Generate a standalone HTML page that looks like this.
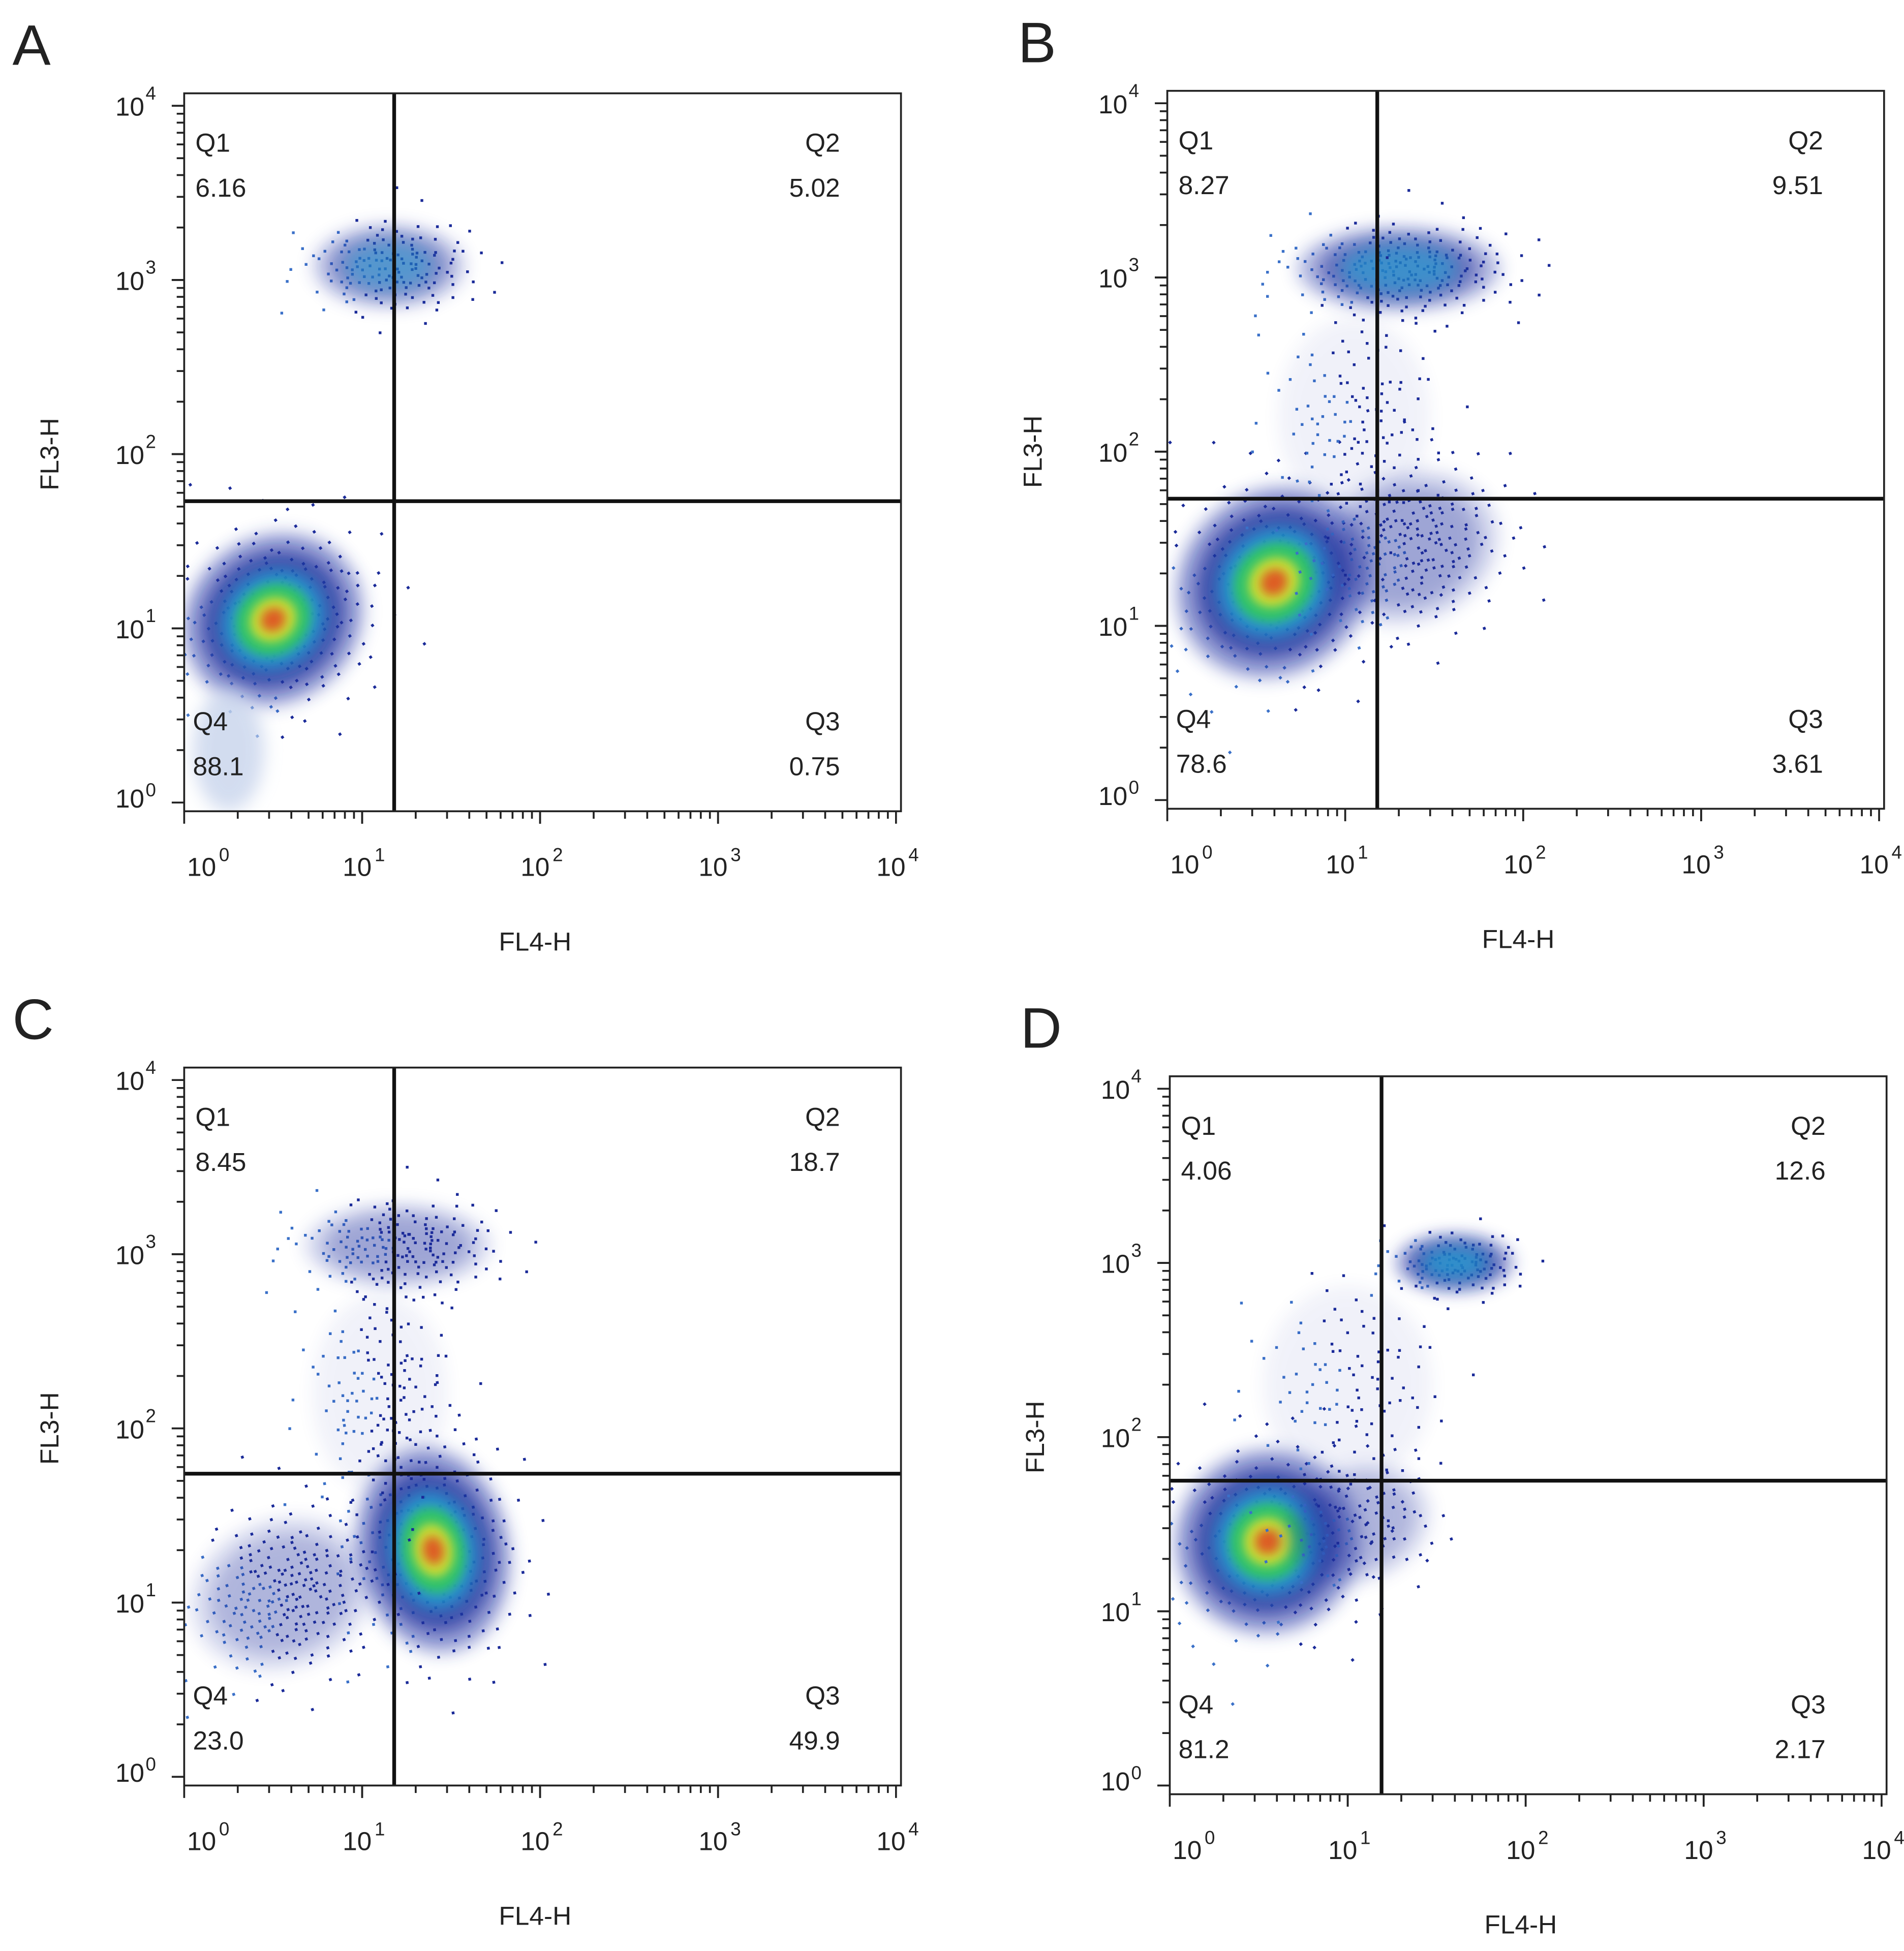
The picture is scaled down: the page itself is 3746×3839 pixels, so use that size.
<!DOCTYPE html>
<html><head><meta charset="utf-8"><style>
html,body{margin:0;padding:0;background:#fff}
svg{display:block}
text{font-family:"Liberation Sans",sans-serif;fill:#222}
</style></head><body>
<svg id="fig" width="3746" height="3839" viewBox="0 0 1530 1568" xmlns="http://www.w3.org/2000/svg">
<defs>
<filter id="blur" x="-50%" y="-50%" width="200%" height="200%"><feGaussianBlur stdDeviation="7"/></filter>
<filter id="blur2" x="-50%" y="-50%" width="200%" height="200%"><feGaussianBlur stdDeviation="4"/></filter>
</defs>
</svg>
<script>
// Panel data
const panelNames = ["A","B","C","D"];
const panelOffsetsX = [0, 790, 0, 792];
const panelOffsetsY = [0, -2, 783, 790];
const gateX = [1.18, 1.18, 1.18, 1.19];
const gateY = [1.73, 1.73, 1.74, 1.75];
const q1Values = ["6.16","8.27","8.45","4.06"];
const q2Values = ["5.02","9.51","18.7","12.6"];
const q3Values = ["0.75","3.61","49.9","2.17"];
const q4Values = ["88.1","78.6","23.0","81.2"];
// clusters: panel, log x, log y, spread x, spread y, rotation, intensity, sparse dot count
const clusterPanel = [0,0,0, 1,1,1,1, 2,2,2,2, 3,3,3,3];
const clusterLX = [0.5,1.15,0.25, 0.6,1.35,1.3,1.05, 1.4,0.55,1.2,1.1, 0.55,1.6,1.0,1.05];
const clusterLY = [1.05,3.08,0.3, 1.25,1.45,3.05,2.2, 1.3,1.05,3.05,2.2, 1.4,3.0,2.3,1.5];
const clusterSX = [0.55,0.45,0.2, 0.6,0.55,0.6,0.45, 0.45,0.55,0.55,0.4, 0.55,0.35,0.5,0.45];
const clusterSY = [0.5,0.25,0.35, 0.55,0.45,0.25,0.6, 0.62,0.45,0.25,0.6, 0.55,0.17,0.6,0.35];
const clusterRot = [-35,0,0, -40,-20,0,0, -10,-20,0,0, -40,0,0,-20];
const clusterInt = [1.0,0.35,0.0, 0.95,0.25,0.45,0.08, 1.0,0.2,0.25,0.08, 1.0,0.55,0.08,0.2];
const clusterDots = [250,150,0, 250,220,220,120, 250,250,180,140, 220,120,110,100];
const xTickLabels = ["0","1","2","3","4"];
const yTickLabels = ["0","1","2","3","4"];

const NS="http://www.w3.org/2000/svg";
const svg=document.getElementById('fig');
function mk(tag,attrs,parent){const e=document.createElementNS(NS,tag);for(const k in attrs)e.setAttribute(k,attrs[k]);(parent||svg).appendChild(e);return e;}
function halton(i,b){let f=1,r=0;while(i>0){f/=b;r+=f*(i%b);i=Math.floor(i/b);}return r;}
const X0=148,X1=724,Y0=75,Y1=652,DX=143,DY=140,YB=645;
function sx(p,l){return X0+panelOffsetsX[p]+l*DX;}
function sy(p,l){return YB+panelOffsetsY[p]-l*DY;}

for(let p=0;p<4;p++){
  const ox=panelOffsetsX[p],oy=panelOffsetsY[p];
  const g=mk('g',{});
  
  
  const lt=mk('text',{x:10+ox+(p%2?18:0),y:52+oy,'font-size':46},g);lt.textContent=panelNames[p];
  
  
  const clip=mk('clipPath',{id:'c'+p},g);
  mk('rect',{x:X0+ox,y:Y0+oy,width:X1-X0,height:Y1-Y0},clip);
  const cg=mk('g',{'clip-path':'url(#c'+p+')'},g);
  
  
  for(let i=0;i<clusterPanel.length;i++){
    if(clusterPanel[i]!==p)continue;
    const cx=sx(p,clusterLX[i]),cy=sy(p,clusterLY[i]);
    const rx=clusterSX[i]*DX,ry=clusterSY[i]*DY,it=clusterInt[i];
    const cl=mk('g',{transform:`rotate(${clusterRot[i]} ${cx} ${cy})`},cg);
    
    
    if(it===0){mk('ellipse',{cx,cy,rx,ry,fill:'#c8d4ec',opacity:0.8,filter:'url(#blur)'},cl);continue;}
    for(let k=1;k<=clusterDots[i];k++){
      const u=halton(k+7,2),v=halton(k+7,3);
      const r=Math.sqrt(-2*Math.log(Math.max(u,1e-4)))*0.55;
      const dx=r*Math.cos(2*Math.PI*v)*rx,dy=r*Math.sin(2*Math.PI*v)*ry;
      mk('rect',{x:cx+dx,y:cy+dy,width:2.2,height:2.2,fill:k%3?'#1a2a98':'#3a70c8'},cl);
    }
    const layers=[[0.95,'#2838a8',0.5,0],[0.75,'#1a2a98',0.7,0.2],[0.55,'#20a8d8',0.8,0.35],[0.4,'#30c860',0.9,0.6],[0.25,'#d8e030',0.9,0.85],[0.13,'#e05020',0.9,0.93]];
    for(const [s,c,o,th] of layers){ if(it<th)continue;
      mk('ellipse',{cx,cy,rx:rx*s,ry:ry*s,fill:c,opacity:o*Math.min(1,it*1.6),filter:s>0.5?'url(#blur)':'url(#blur2)'},cl);}
  }
  mk('line',{x1:sx(p,gateX[p]),x2:sx(p,gateX[p]),y1:Y0+oy,y2:Y1+oy,stroke:'#111','stroke-width':3},g);
  mk('line',{x1:X0+ox,x2:X1+ox,y1:sy(p,gateY[p]),y2:sy(p,gateY[p]),stroke:'#111','stroke-width':3},g);
  const fr=mk('rect',{x:X0+ox,y:Y0+oy,width:X1-X0,height:Y1-Y0,fill:'none',stroke:'#222','stroke-width':1.5},g);
  
  
  for(let d=0;d<4;d++)for(let m=1;m<=10;m++){
    const l=d+Math.log10(m);const big=(m===1||m===10);
    const x=sx(p,l);mk('line',{x1:x,x2:x,y1:Y1+oy,y2:Y1+oy+(big?10:6),stroke:'#222','stroke-width':1.5},g);
    const y=sy(p,l);if(y>=Y0+oy-2&&y<=Y1+oy)mk('line',{x1:X0+ox,x2:X0+ox-(big?10:6),y1:y,y2:y,stroke:'#222','stroke-width':1.5},g);
  }
  for(let d=0;d<5;d++){
    const t=mk('text',{x:sx(p,d)+(d===0?14:-4),y:Y1+oy+52,'font-size':21,'text-anchor':'middle'},g);
    t.textContent='10';
    mk('text',{x:sx(p,d)+(d===0?28:10),y:Y1+oy+40,'font-size':15},g).textContent=xTickLabels[d];
    const u=mk('text',{x:X0+ox-32,y:sy(p,d)+(d===0?4:8),'font-size':21,'text-anchor':'end'},g);
    u.textContent='10';
    mk('text',{x:X0+ox-31,y:sy(p,d)-5,'font-size':15},g).textContent=yTickLabels[d];
  }
  const xt=mk('text',{x:430+ox,y:764+oy,'font-size':21,'text-anchor':'middle'},g);xt.textContent='FL4-H';
  
  const yt=mk('text',{x:0,y:0,'font-size':21,'text-anchor':'middle',transform:`translate(${47+ox},${365+oy}) rotate(-90)`},g);yt.textContent='FL3-H';
  
  const qs=[["Q1",q1Values[p],157,'start',122],["Q2",q2Values[p],675,'end',122],["Q3",q3Values[p],675,'end',587],["Q4",q4Values[p],155,'start',587]];
  for(const [n,v,x,a,y] of qs){
    const t1=mk('text',{x:x+ox,y:y+oy,'font-size':21,'text-anchor':a},g);t1.textContent=n;
    
    const t2=mk('text',{x:x+ox,y:y+36+oy,'font-size':21,'text-anchor':a},g);t2.textContent=v;
    
  }
}
</script>
</body></html>
